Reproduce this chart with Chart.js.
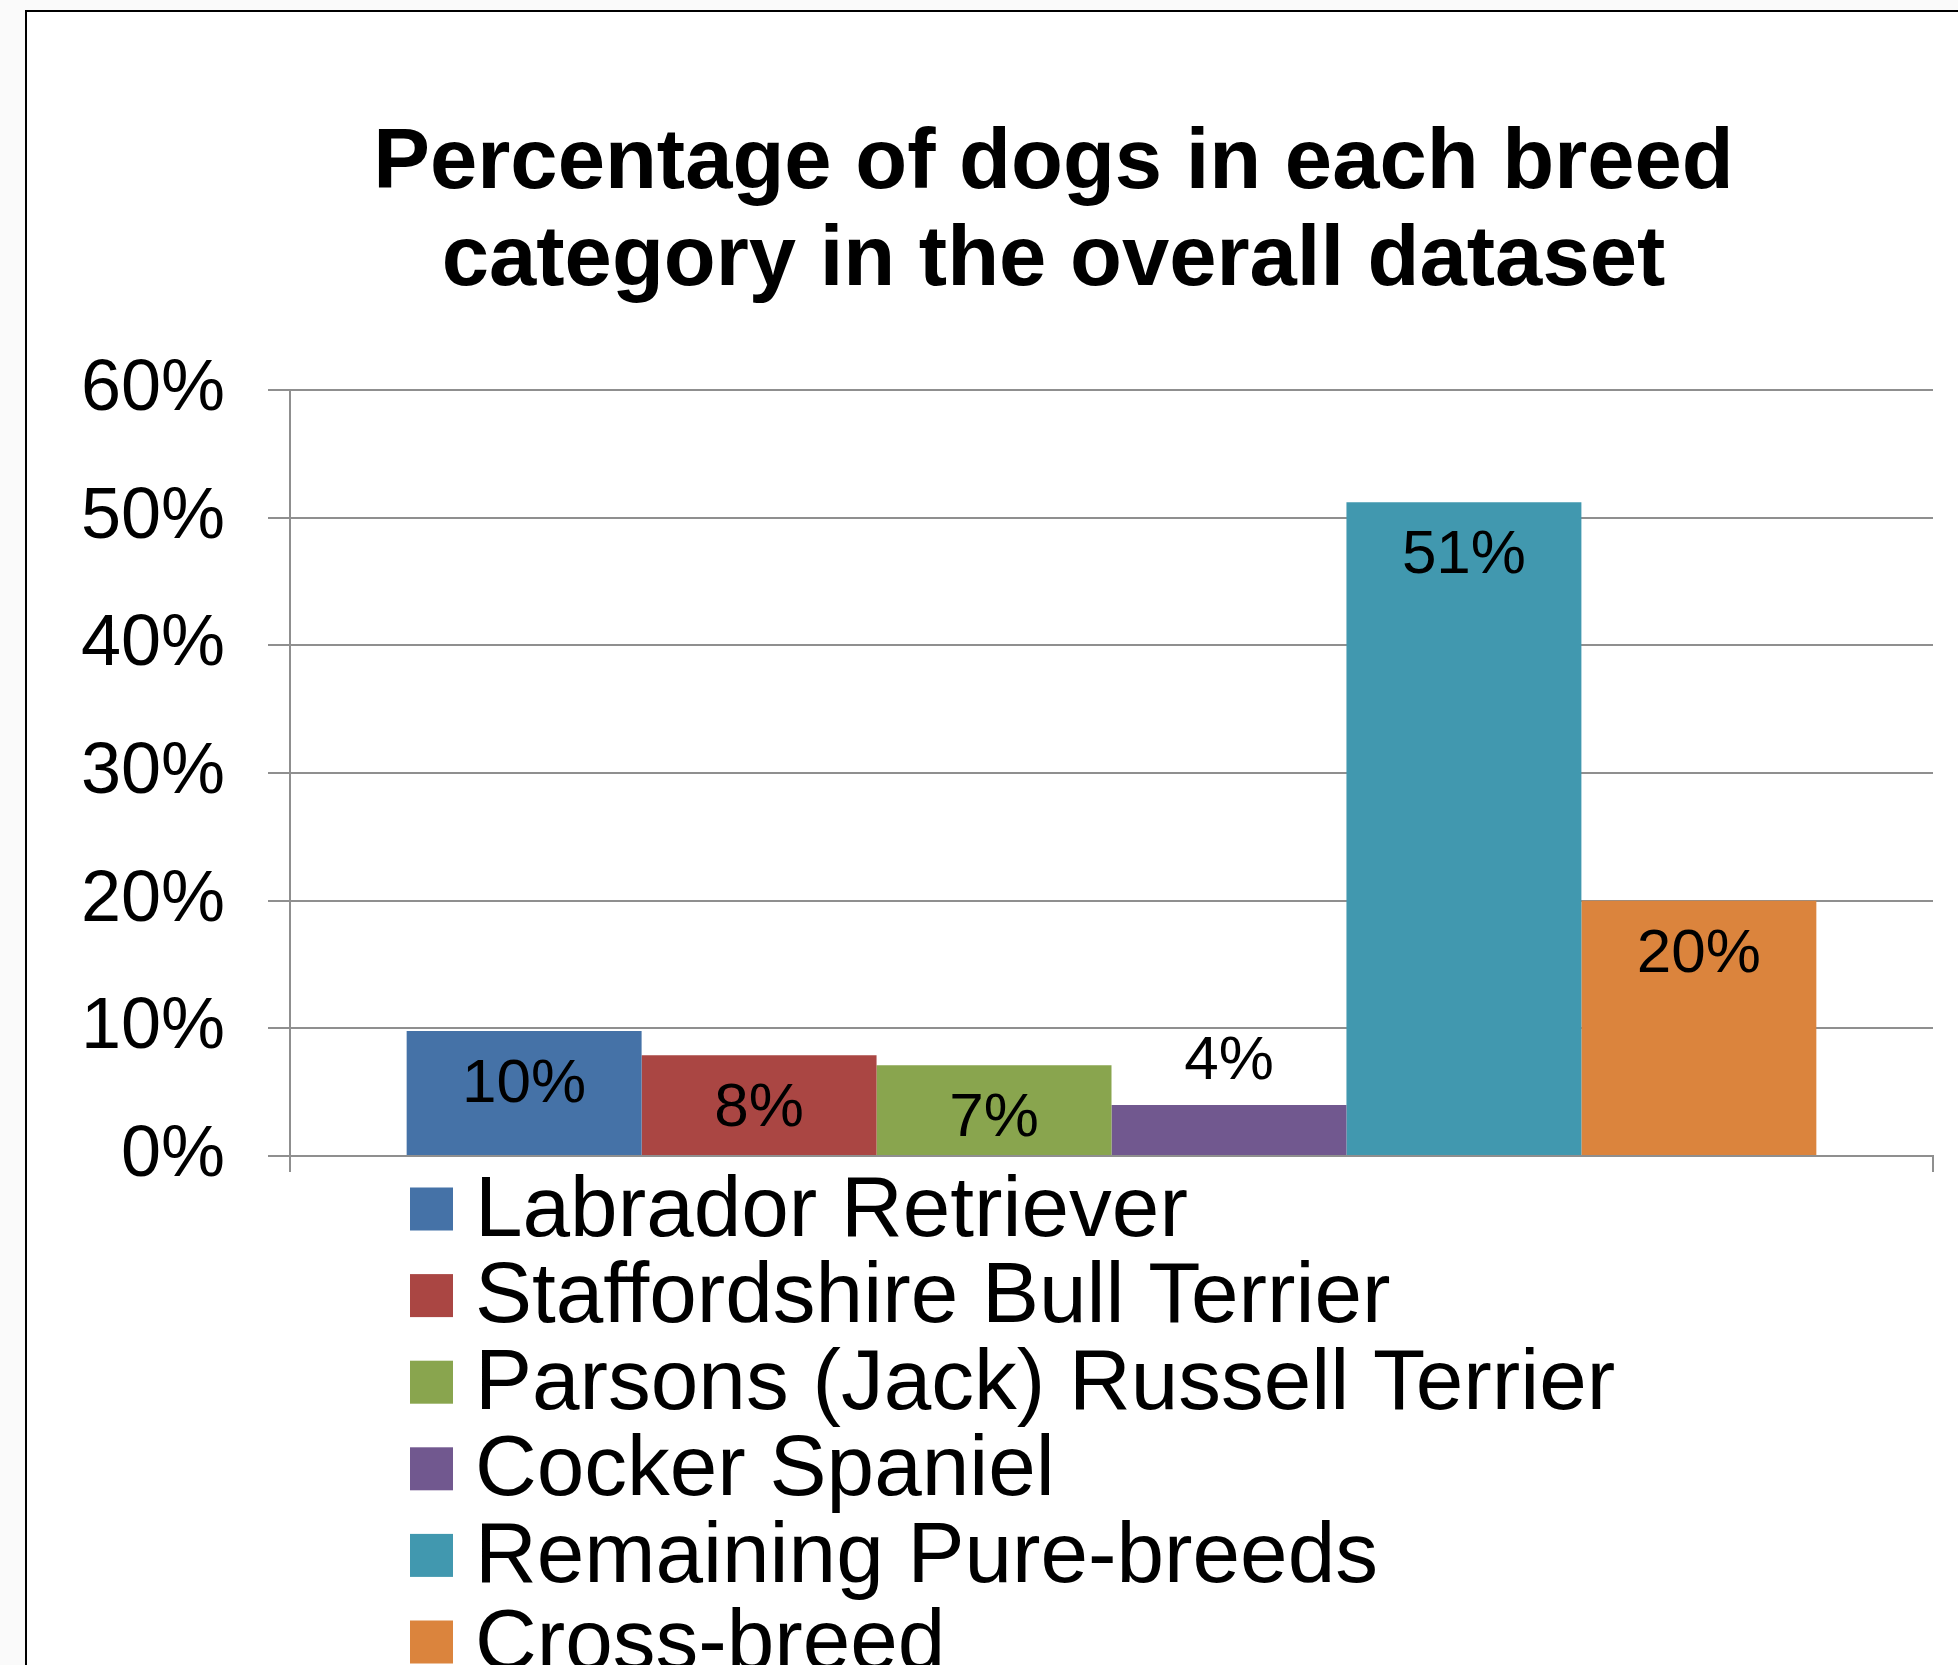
<!DOCTYPE html>
<html>
<head>
<meta charset="utf-8">
<script src="https://cdn.jsdelivr.net/npm/chart.js@4"></script>
<style>
  html, body { margin: 0; padding: 0; background: #fafafa; overflow: hidden; }
  #marco {
    position: absolute; left: 25px; top: 10px;
    width: 2053px; height: 1760px;
    border-left: 2px solid #000; border-top: 2px solid #000;
    background: #fff;
  }
  #marco canvas { display: block; }
</style>
</head>
<body>
<div id="marco"><canvas id="grafico"></canvas></div>
<script>
// datos
const titulo = ['Percentage of dogs in each breed', 'category in the overall dataset'];
const razas = [
  'Labrador Retriever',
  'Staffordshire Bull Terrier',
  'Parsons (Jack) Russell Terrier',
  'Cocker Spaniel',
  'Remaining Pure-breeds',
  'Cross-breed'
];
const porcentajes = [9.8, 7.9, 7.1, 4.0, 51.2, 20.0];
const colores = ['#4572A7', '#AA4643', '#89A54E', '#71588F', '#4198AF', '#DB843D'];
const ticksY = [0, 10, 20, 30, 40, 50, 60];

const FUENTE = '"Liberation Sans", Arial, sans-serif';
const GRIS = '#8f8f8f';

// etiquetas de valor sobre/dentro de cada barra
const etiquetasBarras = {
  id: 'etiquetasBarras',
  afterDatasetsDraw(chart) {
    const ctx = chart.ctx;
    ctx.save();
    ctx.font = '62px ' + FUENTE;
    ctx.fillStyle = '#000';
    ctx.textAlign = 'center';
    ctx.textBaseline = 'middle';
    chart.data.datasets.forEach((ds, i) => {
      const bar = chart.getDatasetMeta(i).data[0];
      const v = ds.data[0];
      const y = v >= 5 ? bar.y + 54 : bar.y - 43;
      ctx.fillText(Math.round(v) + '%', bar.x, y);
    });
    ctx.restore();
  }
};

// leyenda vertical debajo del eje (se sale por abajo como en el original)
const leyendaLista = {
  id: 'leyendaLista',
  afterDraw(chart) {
    const ctx = chart.ctx;
    const x0 = 383;
    const y0 = chart.chartArea.bottom + 53;
    const paso = 86.6;
    ctx.save();
    ctx.font = '85.5px ' + FUENTE;
    ctx.textAlign = 'left';
    ctx.textBaseline = 'middle';
    chart.data.datasets.forEach((ds, i) => {
      const y = y0 + i * paso;
      ctx.fillStyle = ds.backgroundColor;
      ctx.fillRect(x0, y - 21.5, 43, 43);
      ctx.fillStyle = '#000';
      ctx.fillText(ds.label, x0 + 65, y + 3);
    });
    ctx.restore();
  }
};

const datasets = razas.map((raza, i) => ({
  label: raza,
  data: [porcentajes[i]],
  backgroundColor: colores[i],
  borderWidth: 0,
  categoryPercentage: 0.858,
  barPercentage: 1
}));

new Chart(document.getElementById('grafico'), {
  type: 'bar',
  data: { labels: [''], datasets },
  plugins: [etiquetasBarras, leyendaLista],
  options: {
    responsive: true,
    maintainAspectRatio: false,
    devicePixelRatio: 1,
    animation: false,
    layout: { padding: { left: 0, right: 0, top: 0, bottom: 600 } },
    plugins: {
      legend: { display: false },
      tooltip: { enabled: false },
      title: {
        display: true,
        text: titulo,
        color: '#000',
        font: { family: FUENTE, size: 85, weight: 'bold', lineHeight: 1.141 },
        padding: { top: 104, bottom: 80 }
      }
    },
    scales: {
      x: {
        grid: { drawOnChartArea: false, drawTicks: true, tickLength: 16, color: GRIS, lineWidth: 2, offset: true },
        border: { display: true, color: GRIS, width: 2 },
        ticks: { display: false },
        afterFit(scale) { scale.height = 16; }
      },
      y: {
        min: 0,
        max: 60,
        afterBuildTicks(scale) { scale.ticks = ticksY.map(v => ({ value: v })); },
        grid: { color: GRIS, lineWidth: 2, tickLength: 22 },
        border: { display: true, color: GRIS, width: 2 },
        ticks: {
          color: '#000',
          padding: 43,
          font: { family: FUENTE, size: 72 },
          callback: v => v + '%'
        },
        afterFit(scale) { scale.width = 263; }
      },
      // eje vacío a la derecha: sólo reserva el margen derecho sin mover el título
      margenDerecho: {
        type: 'linear',
        position: 'right',
        min: 0,
        max: 60,
        grid: { display: false },
        border: { display: false },
        ticks: { display: false },
        afterFit(scale) { scale.width = 147; }
      }
    }
  }
});
</script>
</body>
</html>
